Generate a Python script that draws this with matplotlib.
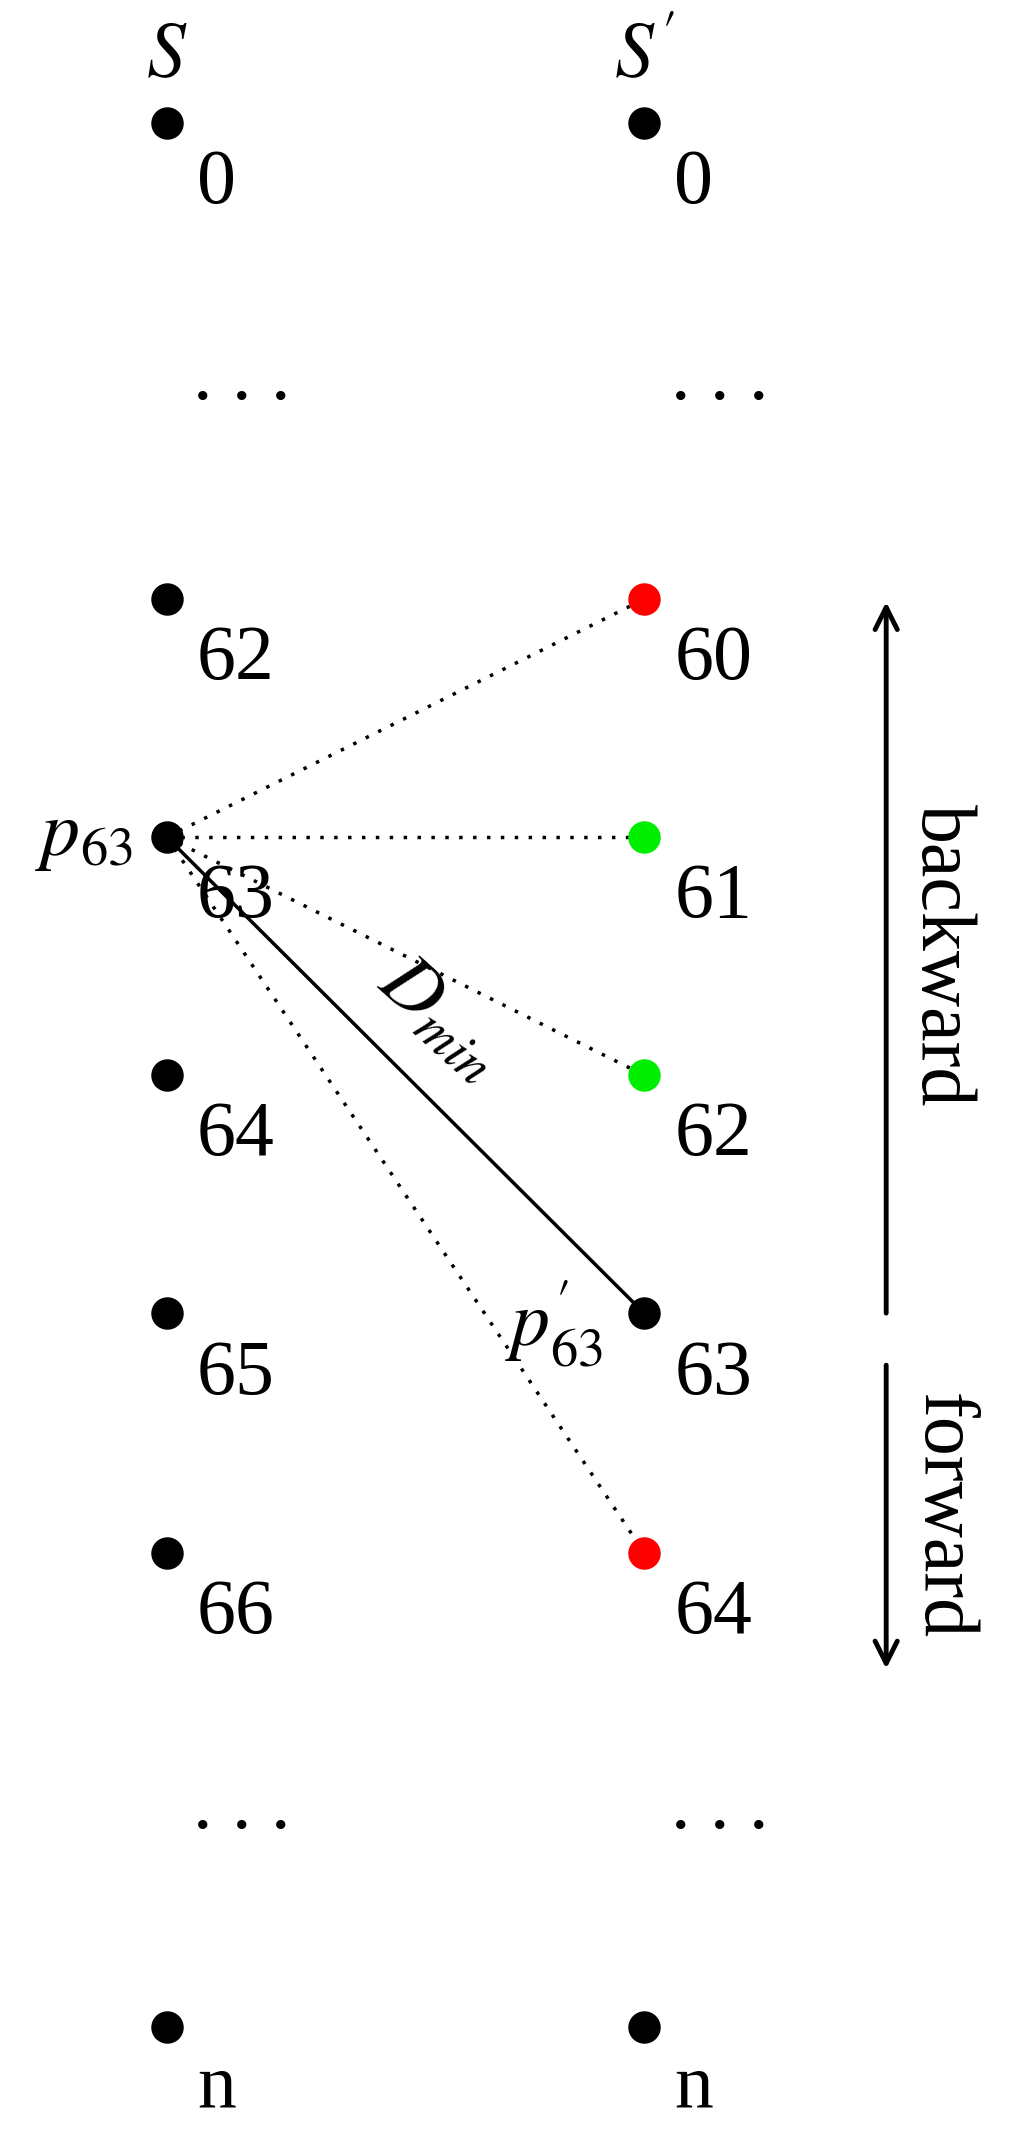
import matplotlib.pyplot as plt

plt.rcParams['font.family'] = ['Liberation Serif', 'DejaVu Serif']
plt.rcParams['mathtext.fontset'] = 'stix'

left_labels = ['0', '62', '63', '64', '65', '66', 'n']
left_rows = [90, 438, 612, 786, 960, 1135, 1482]
right_labels = ['0', '60', '61', '62', '63', '64', 'n']
right_rows = [90, 438, 612, 786, 960, 1135, 1482]
right_colors = ['black', '#ff0000', '#00ee00', '#00ee00', 'black', '#ff0000', 'black']
dots_rows = [290, 1335]
xl, xr = 122, 471
src_row = 612
best = '63'

fig = plt.figure(figsize=(10.12, 21.38), dpi=100)
ax = fig.add_axes([0, 0, 1, 1])
ax.set_xlim(0, 740)
ax.set_ylim(1563, 0)
ax.axis('off')
fs = 56

# lines from p63 to candidates
for lab, y in zip(right_labels, right_rows):
    if lab in ('60', '61', '62', '64'):
        ax.plot([xl, xr], [src_row, y], color='black', lw=2.5, ls=(0, (1, 3)), zorder=1)
    elif lab == best:
        ax.plot([xl, xr], [src_row, y], color='black', lw=2.5, zorder=1)

for lab, y in zip(left_labels, left_rows):
    ax.scatter(xl, y, s=500, color='black', zorder=3)
    ax.text(xl + 22, y + 45, lab, fontsize=fs, va='center', ha='left')
for lab, y, c in zip(right_labels, right_rows, right_colors):
    ax.scatter(xr, y, s=500, color=c, zorder=3)
    ax.text(xr + 22, y + 45, lab, fontsize=fs, va='center', ha='left')
for y in dots_rows:
    ax.text(xl + 55, y - 12, '. . .', fontsize=fs, ha='center', va='center')
    ax.text(xr + 55, y - 12, '. . .', fontsize=fs, ha='center', va='center')

ax.text(xl, 42, r'$S$', fontsize=fs, ha='center', va='center')
ax.text(xr, 42, r'$S^{\prime}$', fontsize=fs, ha='center', va='center')
ax.text(xl - 25, src_row, r'$p_{63}$', fontsize=fs, ha='right', va='center')
ax.text(322, 745, r'$D_{min}$', fontsize=fs, ha='center', va='center', rotation=-42)
ax.text(405, 968, r'$p^{\prime}_{63}$', fontsize=fs, ha='center', va='center')

ax.annotate('', xy=(648, 438), xytext=(648, 962),
            arrowprops=dict(arrowstyle='->', lw=3.5, color='black', mutation_scale=40))
ax.annotate('', xy=(648, 1222), xytext=(648, 996),
            arrowprops=dict(arrowstyle='->', lw=3.5, color='black', mutation_scale=40))
ax.text(688, 698, 'backward', fontsize=fs, rotation=-90, ha='center', va='center')
ax.text(688, 1108, 'forward', fontsize=fs, rotation=-90, ha='center', va='center')

fig.savefig('out.png', dpi=100)
